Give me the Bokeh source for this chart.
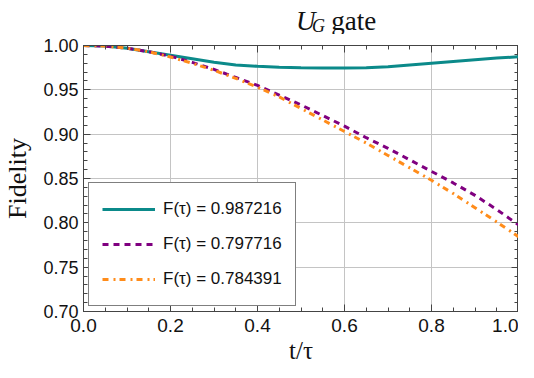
from bokeh.plotting import figure
from bokeh.layouts import column
from bokeh.models import (Range1d, LinearAxis, SingleIntervalTicker, Legend, LegendItem, Label,
                          NumeralTickFormatter, CustomJSTickFormatter)
from bokeh.embed import file_html
from bokeh.resources import INLINE

t = [0.0, 0.05, 0.1, 0.15, 0.2, 0.25, 0.3, 0.35, 0.4, 0.45, 0.5,
     0.55, 0.6, 0.65, 0.7, 0.75, 0.8, 0.85, 0.9, 0.95, 1.0]
f_teal = [1.000, 0.9995, 0.997, 0.993, 0.989, 0.985, 0.981, 0.978, 0.9765, 0.9755, 0.975,
          0.9746, 0.9746, 0.975, 0.976, 0.978, 0.980, 0.982, 0.984, 0.9858, 0.987216]
f_purple = [1.000, 0.9993, 0.997, 0.993, 0.988, 0.981, 0.973, 0.964, 0.955, 0.944, 0.933,
            0.921, 0.909, 0.896, 0.884, 0.871, 0.858, 0.845, 0.831, 0.815, 0.797716]
f_orange = [1.000, 0.9993, 0.997, 0.993, 0.987, 0.980, 0.972, 0.963, 0.953, 0.942, 0.929,
            0.916, 0.903, 0.890, 0.876, 0.862, 0.848, 0.833, 0.817, 0.801, 0.784391]
legend_labels = ["F(\u03c4) = 0.987216", "F(\u03c4) = 0.797716", "F(\u03c4) = 0.784391"]
title_parts = ["U", "G", "gate"]

TICK_FONT = "Liberation Sans"
SERIF = "Liberation Serif"
AX_COLOR = "#444444"
TXT = "#111111"
W = 518
TITLE_H = 34

# --- title strip (its own small SVG figure, so the sub-scripted title stays real text)
tf = figure(width=W, height=TITLE_H, output_backend="svg", toolbar_location=None,
            x_range=Range1d(0, W), y_range=Range1d(0, TITLE_H),
            x_axis_location=None, y_axis_location=None, min_border=0)
tf.outline_line_color = None
tf.grid.visible = False
tf.background_fill_color = "white"
tf.border_fill_color = "white"
tf.add_layout(Label(x=253, y=14, text=title_parts[0], text_font=SERIF, text_baseline="alphabetic",
                    text_font_style="italic", text_font_size="27px", text_color=TXT))
tf.add_layout(Label(x=272, y=9, text=title_parts[1], text_font=SERIF, text_baseline="alphabetic",
                    text_font_style="italic", text_font_size="18px", text_color=TXT))
tf.add_layout(Label(x=295, y=14, text=title_parts[2], text_font=SERIF, text_baseline="alphabetic",
                    text_font_style="normal", text_font_size="27px", text_color=TXT))

# --- main plot
p = figure(width=W, height=336, output_backend="svg", toolbar_location=None,
           x_range=Range1d(0, 1), y_range=Range1d(0.7, 1.0),
           x_axis_location=None, y_axis_location=None,
           min_border_left=73, min_border_right=0, min_border_top=11, min_border_bottom=59)
p.outline_line_color = AX_COLOR
p.background_fill_color = "white"
p.border_fill_color = "white"

def make_axis(interval, minor, fmt, show_labels, size):
    ax = LinearAxis(ticker=SingleIntervalTicker(interval=interval, num_minor_ticks=minor))
    ax.axis_line_color = AX_COLOR
    ax.major_tick_line_color = AX_COLOR
    ax.minor_tick_line_color = AX_COLOR
    ax.major_tick_in = 7
    ax.major_tick_out = 0
    ax.minor_tick_in = 4
    ax.minor_tick_out = 0
    ax.major_label_text_font = TICK_FONT
    ax.major_label_text_font_size = size
    ax.major_label_text_color = TXT
    if show_labels:
        ax.formatter = NumeralTickFormatter(format=fmt)
    else:
        ax.formatter = CustomJSTickFormatter(code="return ''")
        ax.major_label_standoff = 0
        ax.axis_label_standoff = 0
    return ax

bx = make_axis(0.2, 4, "0.0", True, "19px")
ly = make_axis(0.05, 5, "0.00", True, "18px")
tx = make_axis(0.2, 4, "0.0", False, "18px")
ry = make_axis(0.05, 5, "0.00", False, "18px")
bx.major_label_standoff = 7
ly.major_label_standoff = 5

bx.axis_label = "t/\u03c4"
ly.axis_label = "Fidelity"
for ax in (bx, ly):
    ax.axis_label_text_font = SERIF
    ax.axis_label_text_font_style = "normal"
    ax.axis_label_text_color = TXT
bx.axis_label_text_font_size = "25px"
ly.axis_label_text_font_size = "26px"
bx.axis_label_standoff = 2
ly.axis_label_standoff = 8

p.add_layout(bx, "below")
p.add_layout(ly, "left")
p.add_layout(tx, "above")
p.add_layout(ry, "right")

p.xgrid.ticker = bx.ticker
p.ygrid.ticker = ly.ticker
p.grid.grid_line_color = "#c4c4c4"
p.grid.grid_line_width = 1

r1 = p.line(t, f_teal, line_color="#0b8a8a", line_width=3)
r2 = p.line(t, f_purple, line_color="#800080", line_width=3, line_dash="6 5")
r3 = p.line(t, f_orange, line_color="#ff8c1a", line_width=3, line_dash="6 5 2 4")

legend = Legend(items=[LegendItem(label=legend_labels[0], renderers=[r1]),
                       LegendItem(label=legend_labels[1], renderers=[r2]),
                       LegendItem(label=legend_labels[2], renderers=[r3])],
                location="bottom_left")
legend.margin = 5
legend.padding = 13
legend.spacing = 9
legend.glyph_width = 53
legend.glyph_height = 26
legend.label_height = 26
legend.label_standoff = 8
legend.label_text_font = TICK_FONT
legend.label_text_font_size = "17px"
legend.label_text_color = TXT
legend.border_line_color = "black"
legend.border_line_width = 1.5
legend.background_fill_color = "white"
legend.background_fill_alpha = 1.0
p.add_layout(legend, "center")

layout = column(tf, p, spacing=0)
open("out.html", "w").write(file_html(layout, INLINE))
